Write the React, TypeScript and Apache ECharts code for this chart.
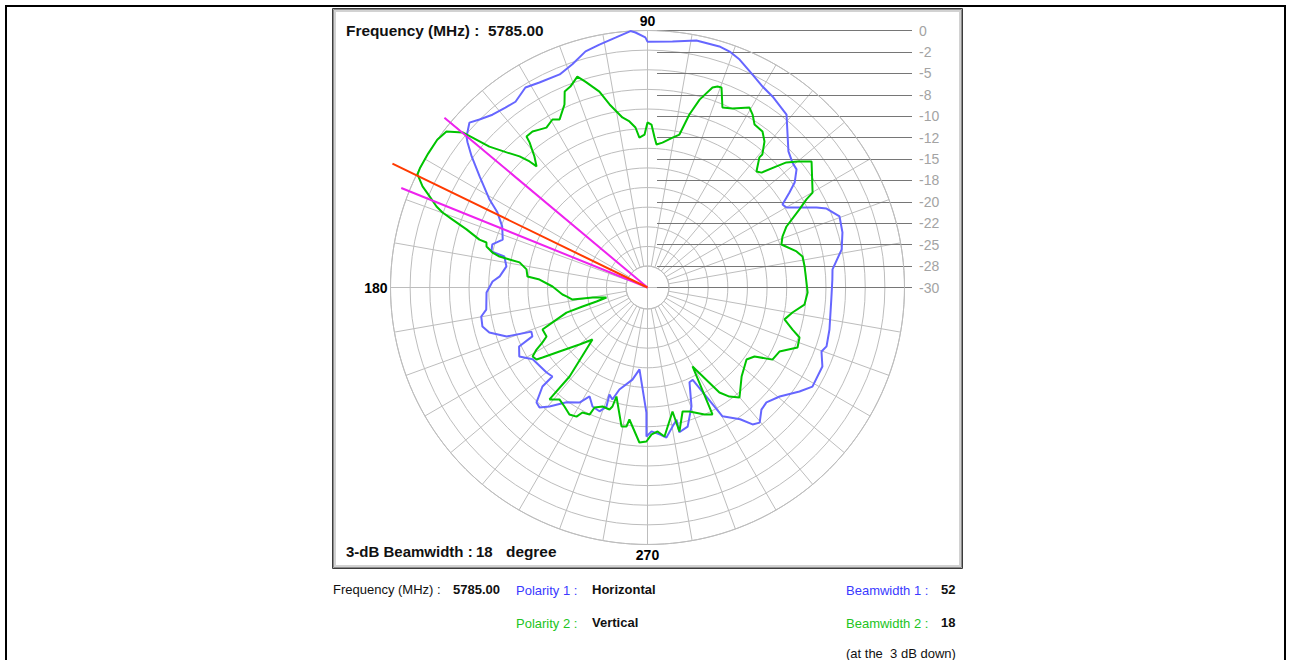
import React, { useEffect, useRef } from "react";
import * as echarts from "echarts";

// ---- Data ----
// Polarity 1 : Horizontal (blue) — angle in degrees, gain in dB
const H_ANGLE = [2.5, 5.6, 11.1, 15.8, 20.3, 23.8, 25.3, 29.9, 31.6, 33.8, 35.5, 38.4, 40.8, 44.0, 47.5, 51.2, 56.8, 60.2, 63.8, 68.0, 70.8, 73.4, 78.8, 84.2, 90, 90.5, 92.7, 93.8, 97.3, 101.2, 104.7, 108.6, 112.4, 117.8, 121.4, 125.4, 128.3, 131.9, 135, 137.2, 140.2, 141.1, 143.3, 146.5, 150.9, 153.4, 157.2, 161.7, 164.5, 167, 167.8, 171.5, 175.7, 177.8, 181.8, 187.8, 189.9, 193.3, 195.9, 199.2, 200.8, 203, 204.7, 208.3, 212, 220.1, 223.1, 223.3, 226, 228, 230.5, 234.8, 239.4, 242, 245.2, 248.8, 251, 250.4, 252.6, 254.6, 260.7, 264.4, 269.5, 269.6, 271.6, 274.7, 277.2, 280.2, 282.4, 282.4, 286.1, 290.3, 293.9, 296.1, 298.4, 300.2, 305.1, 307.5, 309.7, 313, 316, 320.5, 325.6, 329, 335.7, 339.8, 341.8, 347, 356.3];
const H_GAIN = [-8.4, -8.3, -6.9, -6.35, -6.1, -7.16, -8.17, -11.28, -11.5, -10.06, -8.9, -7.8, -7.66, -7.13, -5.8, -4.1, -3.35, -2.97, -2.28, -1.3, -0.84, -0.64, -0.6, -1.13, -1.3, -0.8, -0.2, 0, -0.6, -1.1, -1.5, -2.5, -3.1, -2.95, -2.65, -3.4, -3.24, -2.9, -2.26, -1.67, -2.5, -3.0, -4.4, -6.5, -8.9, -10.4, -11.6, -12.2, -11.2, -11.3, -12.9, -13.35, -12.7, -11.9, -11.2, -11.0, -10.3, -10.2, -10.8, -12.6, -15.5, -15.4, -13.5, -13.0, -14.2, -14.6, -14.8, -13.15, -11.35, -11.16, -12.0, -13.6, -14.4, -15.6, -14.7, -14.5, -15.3, -16.75, -16.3, -17.65, -19.1, -20.4, -15.4, -12.6, -13.2, -12.8, -12.35, -13.5, -14.2, -12.7, -13.1, -15.2, -17.9, -18.0, -15.5, -12.6, -11.2, -9.85, -9.5, -10.5, -10.7, -10.0, -8.5, -7.54, -7.6, -8.36, -8.0, -8.2, -8.5];

// Polarity 2 : Vertical (green)
const V_ANGLE = [1.8, 7.6, 11.3, 13.6, 17.8, 20.7, 23.7, 27.2, 29, 29.9, 37.5, 40, 42, 43.2, 45.2, 46.8, 49.3, 49.2, 51.3, 53.6, 56.7, 58.7, 60.5, 64.6, 67.4, 69.7, 70.8, 72, 74.5, 76.4, 78.2, 80.5, 84.1, 86.4, 87.3, 88.6, 90, 91.1, 93.1, 94.3, 96.2, 98.4, 101.7, 103.8, 106.8, 108.4, 111, 112.9, 114.4, 117.6, 119.5, 122.3, 124.4, 126.4, 128.7, 129.1, 130.8, 132.5, 133.1, 134.3, 136.2, 138.3, 139.4, 140, 142.2, 144.9, 148.6, 152.2, 153.8, 155.8, 157.3, 159, 159.9, 160.8, 162.2, 164.1, 164.4, 165.7, 167.3, 168.2, 168.5, 168.9, 171.5, 174.8, 175.8, 179.4, 184.7, 186.3, 189.1, 190.3, 193.7, 195.4, 196.3, 197.2, 200.2, 201.8, 205.9, 207.6, 209.2, 211, 213, 213.7, 216, 220, 223.4, 228.8, 228.8, 231.8, 235.1, 238.4, 241.2, 242.5, 245.5, 246.2, 249.3, 252.7, 253.6, 254.1, 259.4, 261.4, 262.2, 267, 269.6, 271.6, 274, 276.5, 281.4, 282.5, 285.8, 288.7, 294.2, 297.1, 299.7, 304.4, 306.9, 309.9, 316.6, 324, 327.2, 330, 334.1, 338.2, 341.8, 343.8, 346.9, 350.2, 353.8, 358.2];
const V_GAIN = [-11.43, -11.5, -11.55, -12.1, -13.58, -13.16, -12.28, -10.06, -8.79, -7.77, -5.86, -7.13, -8.18, -9.35, -11.1, -11.42, -9.97, -9.48, -8.16, -7.38, -7.24, -6.38, -5.85, -6.87, -7.24, -5.1, -5.16, -5.45, -7.24, -9.22, -11.76, -12.26, -13.0, -13.27, -12.47, -10.97, -10.74, -12.14, -12.47, -11.27, -10.5, -9.94, -8.18, -6.45, -4.89, -4.05, -4.88, -5.16, -6.54, -7.86, -7.47, -7.92, -7.66, -7.38, -7.41, -8.17, -9.8, -10.83, -9.85, -8.62, -7.21, -5.28, -3.1, -1.83, -0.3, 0, 0, 0, -0.08, -1.21, -2.43, -3.62, -4.52, -5.9, -7.81, -9.6, -10.48, -10.61, -11.45, -12.35, -13.56, -14.78, -15.72, -15.93, -17.36, -18.91, -20.04, -20.49, -21.13, -23.5, -25.07, -23.83, -22.1, -20.1, -18.19, -16.8, -16.9, -16.17, -15.16, -14.35, -14.56, -15.27, -17.3, -19.64, -21.16, -16.19, -12.63, -13.38, -13.06, -12.6, -12.8, -13.55, -13.7, -14.69, -15.15, -15.08, -15.52, -16.77, -13.5, -13.59, -14.45, -11.88, -12.02, -12.84, -13.15, -12.49, -15.23, -12.78, -14.96, -14.72, -13.75, -13.35, -19.39, -15.14, -14.08, -13.26, -14.88, -15.71, -15.14, -13.16, -12.88, -11.14, -11.32, -12.37, -13.58, -12.83, -11.57, -11.3];

// 3-dB beam markers: peak direction and the two -3 dB edges
const BEAM_PEAK_ANGLE = 154.1;
const BEAM_PEAK_END_DB = 3.1;
const BEAM_EDGE_ANGLES = [140.1, 158.0];
const BEAM_EDGE_END_DB = [0.9, 1.0];
const CENTER_DB = -30;
const TOP_DB = 0;
const HEADROOM_DB = 5; // data axis extends past the 0 dB ring so beam lines can overshoot

// Tick labels
const DB_LABELS = ["-30", "-28", "-25", "-22", "-20", "-18", "-15", "-12", "-10", "-8", "-5", "-2", "0"];
const ANGLE_LABELS = ["90", "180", "270"];

const FREQUENCY = "5785.00";
const BEAMWIDTH_1 = "52";
const BEAMWIDTH_2 = "18";

// ---- Layout ----
const CX = 647.5;
const CY = 287.5;
const R = 257;
const GRID = "#bdbdbd";
const FONT = '"Liberation Sans", Arial, Helvetica, sans-serif';

function closed(angles: number[], gains: number[]) {
  const d = angles.map((a, i) => [gains[i], a]);
  d.push([gains[0], angles[0]]);
  return d;
}

function txt(text: string, x: number, y: number, size: number, opts: any = {}) {
  const weight = opts.bold ? "bold " : "";
  return {
    type: "text",
    z: 10,
    style: {
      text,
      x,
      y,
      font: `${weight}${size}px ${FONT}`,
      fill: opts.color || "#111",
      align: opts.align || "left",
      textAlign: opts.align || "left",
      verticalAlign: "middle",
      textVerticalAlign: "middle",
    },
  };
}

const hidden = {
  axisLine: { show: false },
  axisTick: { show: false },
  axisLabel: { show: false },
  splitLine: { show: false },
};

export default function App() {
  const ref = useRef<HTMLDivElement>(null);

  useEffect(() => {
    if (!ref.current) return;
    const chart = echarts.init(ref.current, undefined, { renderer: "svg" });

    const lineSeries = (data: any[], color: string, width: number, z: number) => ({
      type: "line",
      coordinateSystem: "polar",
      polarIndex: 1,
      data,
      symbol: "none",
      showSymbol: false,
      clip: false,
      silent: true,
      z,
      lineStyle: { color, width },
    });

    const dataRadius = (R * (TOP_DB + HEADROOM_DB - CENTER_DB)) / (TOP_DB - CENTER_DB);

    const option: any = {
      animation: false,
      backgroundColor: "#ffffff",
      polar: [
        { center: [CX, CY], radius: [R / 12, R] },
        { center: [CX, CY], radius: dataRadius },
        { center: [CX, CY], radius: R },
      ],
      angleAxis: [
        {
          polarIndex: 0,
          type: "value",
          min: 0,
          max: 360,
          interval: 10,
          startAngle: 0,
          clockwise: false,
          axisLine: { show: true, lineStyle: { color: GRID, width: 1 } },
          axisTick: { show: false },
          axisLabel: { show: false },
          splitLine: { show: true, lineStyle: { color: GRID, width: 1 } },
        },
        {
          polarIndex: 1,
          type: "value",
          min: 0,
          max: 360,
          startAngle: 0,
          clockwise: false,
          ...hidden,
        },
        {
          polarIndex: 2,
          type: "value",
          min: 0,
          max: 360,
          interval: 90,
          startAngle: 0,
          clockwise: false,
          axisLine: { show: false },
          axisTick: { show: false },
          axisLabel: {
            show: true,
            margin: 3,
            color: "#000",
            fontWeight: "bold",
            fontSize: 14,
            fontFamily: FONT,
            formatter: (v: number) => (ANGLE_LABELS.includes(String(v)) ? String(v) : ""),
          },
          splitLine: { show: true, lineStyle: { color: GRID, width: 1 } },
        },
      ],
      radiusAxis: [
        {
          polarIndex: 0,
          type: "value",
          min: 0,
          max: 12,
          interval: 1,
          axisLine: { show: false },
          axisTick: { show: false },
          axisLabel: { show: false },
          splitLine: { show: true, lineStyle: { color: GRID, width: 1 } },
        },
        { polarIndex: 1, type: "value", min: CENTER_DB, max: TOP_DB + HEADROOM_DB, ...hidden },
        { polarIndex: 2, type: "value", min: 0, max: 1, ...hidden },
      ],
      grid: { left: 657, top: CY - R, width: 912 - 657, height: R },
      xAxis: { type: "value", show: false },
      yAxis: {
        type: "category",
        data: DB_LABELS,
        boundaryGap: false,
        position: "right",
        axisLine: { show: false },
        axisTick: { show: false },
        axisLabel: { color: "#a3a3a3", fontSize: 14, margin: 7, fontFamily: FONT },
        splitLine: { show: true, lineStyle: { color: "#767676", width: 1 } },
      },
      series: [
        lineSeries(closed(H_ANGLE, H_GAIN), "#6666ff", 2, 3),
        lineSeries(closed(V_ANGLE, V_GAIN), "#00c400", 2, 4),
        lineSeries([[CENTER_DB, BEAM_EDGE_ANGLES[0]], [BEAM_EDGE_END_DB[0], BEAM_EDGE_ANGLES[0]]], "#ee22ee", 2, 5),
        lineSeries([[CENTER_DB, BEAM_EDGE_ANGLES[1]], [BEAM_EDGE_END_DB[1], BEAM_EDGE_ANGLES[1]]], "#ee22ee", 2, 5),
        lineSeries([[CENTER_DB, BEAM_PEAK_ANGLE], [BEAM_PEAK_END_DB, BEAM_PEAK_ANGLE]], "#ff3a00", 2, 6),
      ],
      graphic: [
        // page border
        { type: "line", z: 10, shape: { x1: 5, y1: 6, x2: 1286, y2: 6 }, style: { stroke: "#000", lineWidth: 2 } },
        { type: "line", z: 10, shape: { x1: 6, y1: 5, x2: 6, y2: 660 }, style: { stroke: "#000", lineWidth: 2 } },
        { type: "line", z: 10, shape: { x1: 1285, y1: 5, x2: 1285, y2: 660 }, style: { stroke: "#000", lineWidth: 2 } },
        // chart frame
        { type: "rect", z: 10, shape: { x: 332.5, y: 8.5, width: 630, height: 560 }, style: { fill: "none", stroke: "#3c3c3c", lineWidth: 1 } },
        { type: "rect", z: 10, shape: { x: 333.5, y: 9.5, width: 628, height: 558 }, style: { fill: "none", stroke: "#8c8c8c", lineWidth: 1 } },
        { type: "rect", z: 10, shape: { x: 335, y: 11, width: 625, height: 555 }, style: { fill: "none", stroke: "#d2d2d2", lineWidth: 2 } },
        // in-chart titles
        txt(`Frequency (MHz) :  ${FREQUENCY}`, 346, 30, 15.4, { bold: true }),
        txt("3-dB Beamwidth :", 346, 551, 15, { bold: true }),
        txt(BEAMWIDTH_2, 476, 551, 15, { bold: true }),
        txt("degree", 506, 551, 15.4, { bold: true }),
        // info block below
        txt("Frequency (MHz) :", 333, 589, 13),
        txt(FREQUENCY, 453, 589, 13, { bold: true }),
        txt("Polarity 1 :", 516, 590, 13, { color: "#3a3aff" }),
        txt("Horizontal", 592, 589, 13, { bold: true }),
        txt("Beamwidth 1 :", 846, 590, 13, { color: "#3a3aff" }),
        txt(BEAMWIDTH_1, 941, 589, 13, { bold: true }),
        txt("Polarity 2 :", 516, 623, 13, { color: "#22c422" }),
        txt("Vertical", 592, 622, 13, { bold: true }),
        txt("Beamwidth 2 :", 846, 623, 13, { color: "#22c422" }),
        txt(BEAMWIDTH_2, 941, 622, 13, { bold: true }),
        txt("(at the  3 dB down)", 846, 653, 13),
      ],
    };

    chart.setOption(option);
    return () => chart.dispose();
  }, []);

  return (
    <div
      ref={ref}
      style={{ position: "absolute", left: 0, top: 0, width: 1291, height: 660 }}
    />
  );
}
